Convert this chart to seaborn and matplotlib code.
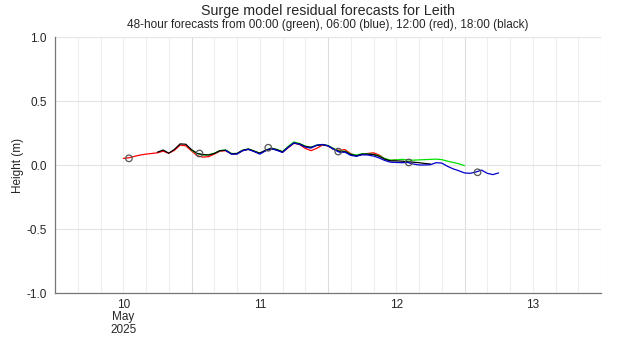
import matplotlib
matplotlib.use("Agg")
import matplotlib.pyplot as plt
import seaborn as sns
import numpy as np
import pandas as pd

# hours since 10 May 2025 00:00
red_start, black_start, green_start, blue_start = 12, 18, 24, 30

red_vals = [0.052, 0.056, 0.068, 0.078, 0.085, 0.090, 0.095, 0.108, 0.092, 0.115,
            0.155, 0.150, 0.110, 0.072, 0.062, 0.065, 0.085, 0.108, 0.112, 0.088,
            0.088, 0.112, 0.122, 0.108, 0.090, 0.112, 0.128, 0.118, 0.100, 0.135,
            0.170, 0.160, 0.130, 0.112, 0.130, 0.155, 0.150, 0.122, 0.115, 0.120,
            0.088, 0.072, 0.082, 0.090, 0.095, 0.078, 0.048, 0.035, 0.040]

black_vals = [0.100, 0.117, 0.092, 0.122, 0.165, 0.162, 0.120, 0.090, 0.082, 0.078,
              0.090, 0.112, 0.115, 0.088, 0.090, 0.115, 0.125, 0.108, 0.092, 0.115,
              0.130, 0.120, 0.102, 0.140, 0.172, 0.165, 0.145, 0.138, 0.152, 0.160,
              0.150, 0.125, 0.105, 0.105, 0.082, 0.072, 0.085, 0.085, 0.082, 0.068,
              0.045, 0.032, 0.032, 0.030, 0.025, 0.022, 0.018, 0.012, 0.008]

green_vals = [0.115, 0.090, 0.078, 0.080, 0.092, 0.112, 0.118, 0.090, 0.090, 0.115,
              0.125, 0.110, 0.092, 0.115, 0.132, 0.122, 0.105, 0.145, 0.180, 0.168,
              0.148, 0.138, 0.155, 0.160, 0.152, 0.128, 0.108, 0.108, 0.085, 0.078,
              0.088, 0.086, 0.082, 0.072, 0.050, 0.038, 0.040, 0.044, 0.040, 0.038,
              0.040, 0.042, 0.044, 0.046, 0.042, 0.030, 0.020, 0.010, -0.005]

blue_vals = [0.115, 0.085, 0.085, 0.112, 0.122, 0.105, 0.085, 0.110, 0.128, 0.115,
             0.098, 0.138, 0.172, 0.162, 0.140, 0.132, 0.155, 0.160, 0.150, 0.122,
             0.100, 0.100, 0.075, 0.068, 0.080, 0.078, 0.070, 0.055, 0.035, 0.022,
             0.020, 0.018, 0.020, 0.008, 0.000, 0.000, 0.002, 0.018, 0.015, -0.010,
             -0.030, -0.045, -0.062, -0.065, -0.055, -0.040, -0.065, -0.075, -0.062]

# high water markers
hw_hours = [13.0, 25.4, 37.5, 49.8, 62.2, 74.3]
hw_vals = [0.052, 0.090, 0.135, 0.105, 0.020, -0.057]

day_ticks = [0, 24, 48, 72, 96]
day_label_pos = [12, 36, 60, 84]
day_labels = ["10\nMay\n2025", "11", "12", "13"]
y_ticks = [1.0, 0.5, 0.0, -0.5, -1.0]

frames = []
for name, start, vals in [("red", red_start, red_vals), ("green", green_start, green_vals),
                          ("black", black_start, black_vals), ("blue", blue_start, blue_vals)]:
    frames.append(pd.DataFrame({"hour": start + np.arange(len(vals)), "height": vals, "run": name}))
df = pd.concat(frames, ignore_index=True)
hw = pd.DataFrame({"hour": hw_hours, "height": hw_vals})

sns.set_style("white")
plt.rcParams["font.family"] = ["Liberation Sans", "DejaVu Sans"]

fig = plt.figure(figsize=(6.2, 3.5), dpi=100)
ax = fig.add_axes([55 / 620, 1 - 293 / 350, 546 / 620, 256 / 350])

# vertical grid every 4 hours, a bit darker at day boundaries
for h in range(0, 97, 4):
    ax.axvline(h, color="#dddddd" if h % 24 == 0 else "#eeeeee", lw=0.8, zorder=0)
ax.yaxis.grid(True, color="#e4e4e4", lw=0.8)
ax.set_axisbelow(True)

palette = {"red": "#ff0000", "green": "#00e000", "black": "#000000", "blue": "#0000cc"}
sns.lineplot(data=df, x="hour", y="height", hue="run", palette=palette,
             hue_order=["red", "green", "black", "blue"], estimator=None,
             lw=0.9, legend=False, ax=ax)
sns.scatterplot(data=hw, x="hour", y="height", s=22, facecolor="none",
                edgecolor="#555555", linewidth=0.9, ax=ax, zorder=5)

ax.set_xlim(0, 96)
ax.set_ylim(-1, 1)
ax.set_xticks(day_ticks)
ax.set_xticklabels([])
ax.set_xticks(day_label_pos, minor=True)
ax.set_xticklabels(day_labels, minor=True, fontsize=8.5, linespacing=1.1)
ax.tick_params(axis="x", which="minor", length=0, pad=4)
ax.tick_params(axis="x", which="major", direction="out", length=4, color="#777777")
ax.set_yticks(y_ticks)
ax.set_yticklabels([f"{v:.1f}" for v in y_ticks], fontsize=8.5)
ax.tick_params(axis="y", direction="out", length=4, color="#777777", pad=2)
ax.set_xlabel("")
ax.set_ylabel("Height (m)", fontsize=8.5, labelpad=2)

for s in ["top", "right"]:
    ax.spines[s].set_visible(False)
for s in ["left", "bottom"]:
    ax.spines[s].set_color("#777777")
    ax.spines[s].set_linewidth(0.9)

fig.text(328 / 620, 1 - 11 / 350, "Surge model residual forecasts for Leith",
         ha="center", va="center", fontsize=10.3)
fig.text(328 / 620, 1 - 25 / 350,
         "48-hour forecasts from 00:00 (green), 06:00 (blue), 12:00 (red), 18:00 (black)",
         ha="center", va="center", fontsize=8.5)

fig.savefig("out.png", dpi=100)
